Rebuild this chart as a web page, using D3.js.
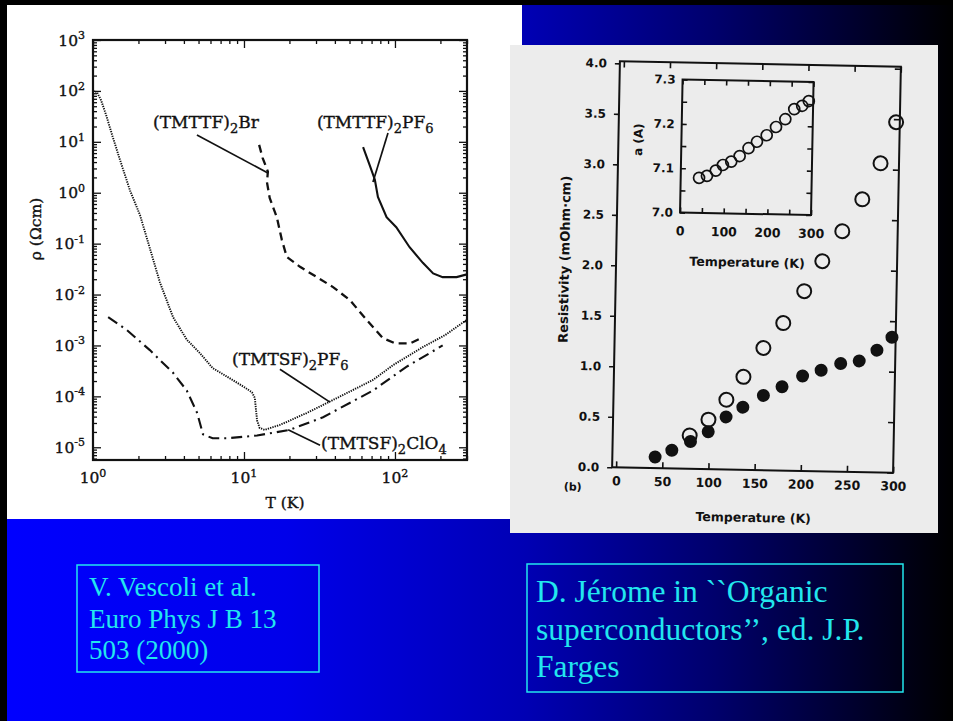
<!DOCTYPE html>
<html>
<head>
<meta charset="utf-8">
<script src="https://cdn.jsdelivr.net/npm/d3@7"></script>
<style>
  body { margin: 0; background: #000; }
  svg { display: block; }
</style>
</head>
<body>
<div id="content"></div>
<script>
let width = 953;
let height = 721;

// ---------- left figure: rho(T), log-log (Vescoli et al.) ----------
let tmtsfPF6T   = [1.0, 1.06, 1.13, 1.22, 1.34, 1.51, 1.76, 2.05, 2.38, 2.78, 3.39, 4.18, 5.1, 6.2, 8.4, 10.1, 11.3, 11.8, 12.2, 12.7, 13.7, 17.3, 26, 38.9, 71.5, 97, 153, 215, 300];
let tmtsfPF6Rho = [1.0e2, 9.5e1, 6.6e1, 3.4e1, 1.35e1, 4.4, 1.1, 3.6e-1, 8.1e-2, 1.7e-2, 3.6e-3, 1.3e-3, 7.1e-4, 3.6e-4, 2.1e-4, 1.5e-4, 1.2e-4, 9.3e-5, 3.4e-5, 2.4e-5, 2.2e-5, 2.75e-5, 4.7e-5, 8.5e-5, 2.1e-4, 4.1e-4, 9.3e-4, 1.6e-3, 3.2e-3];

let tmtsfClO4T   = [1.26, 1.68, 2.38, 3.39, 4.18, 4.9, 5.35, 6.2, 7.7, 12.2, 20.1, 33.4, 71.5, 119, 207];
let tmtsfClO4Rho = [3.6e-3, 2.0e-3, 8.1e-4, 2.9e-4, 1.3e-4, 4.7e-5, 1.8e-5, 1.5e-5, 1.5e-5, 1.7e-5, 2.2e-5, 3.9e-5, 1.3e-4, 3.8e-4, 1.0e-3];

let tmttfBrT   = [12.6, 13.3, 14.4, 14.2, 14.8, 16.5, 17.8, 19.2, 23.5, 30.4, 38.9, 50.3, 64.7, 83, 100, 126, 146];
let tmttfBrRho = [8.7, 4.8, 2.6, 1.6, 0.79, 0.33, 0.12, 0.055, 0.035, 0.022, 0.014, 0.0078, 0.0032, 0.0014, 0.0011, 0.0011, 0.00135];

let tmttfPF6T   = [61.5, 68, 73.6, 77.1, 88, 102, 125, 153, 179, 207, 256, 300];
let tmttfPF6Rho = [7.9, 3.5, 1.8, 0.83, 0.33, 0.21, 0.085, 0.042, 0.026, 0.022, 0.022, 0.025];

let xDecades = [0, 1, 2];
let yDecades = [3, 2, 1, 0, -1, -2, -3, -4, -5];

// curve names, placed and pointed in (T, rho) space
let curveLabels = [
  {parts: [["(TMTTF)", 0], ["2", 1], ["Br", 0]], T: 2.5, rho: 18.7, from: [4.88, 13.6], to: [14.4, 2.44]},
  {parts: [["(TMTTF)", 0], ["2", 1], ["PF", 0], ["6", 1]], T: 30.4, rho: 18.7, from: [89.9, 14.9], to: [71.5, 1.62]},
  {parts: [["(TMTSF)", 0], ["2", 1], ["PF", 0], ["6", 1]], T: 8.33, rho: 4.1e-4, from: [17.3, 3.4e-4], to: [37.1, 7.7e-5]},
  {parts: [["(TMTSF)", 0], ["2", 1], ["ClO", 0], ["4", 1]], T: 32.4, rho: 9.2e-6, from: [31.9, 1.1e-5], to: [19.6, 2.2e-5]}
];

// ---------- right figure: resistivity and lattice parameter (Jerome) ----------
let openT   = [79, 99, 118, 136, 157, 178, 200, 219, 240, 261, 280, 296];
let openRho = [0.33, 0.49, 0.69, 0.92, 1.21, 1.46, 1.78, 2.08, 2.38, 2.70, 3.06, 3.47];

let filledT   = [42, 60, 80, 99, 118, 136, 158, 178, 200, 220, 241, 261, 280, 296];
let filledRho = [0.11, 0.18, 0.27, 0.37, 0.52, 0.62, 0.74, 0.83, 0.94, 1.0, 1.07, 1.10, 1.21, 1.34];

let insetT = [42, 60, 80, 96, 115, 134, 154, 173, 195, 216, 237, 257, 275, 290];
let insetA = [7.079, 7.084, 7.096, 7.109, 7.117, 7.130, 7.148, 7.163, 7.178, 7.197, 7.215, 7.238, 7.246, 7.257];

// ---------- citation boxes ----------
let leftRef  = ["V. Vescoli et al.", "Euro Phys J B 13", "503 (2000)"];
let rightRef = ["D. Jérome in ``Organic", "superconductors’’, ed. J.P.", "Farges"];

let ink = "#111";
let cyan = "#22e6ee";

let svg = d3.select("#content")
    .append("svg")
    .attr("width", width)
    .attr("height", height);

let defs = svg.append("defs");
let grad = defs.append("linearGradient").attr("id", "bg")
    .attr("x1", 0).attr("x2", 1).attr("y1", 0).attr("y2", 0);
[[0, "#0000ff"], [0.3, "#0000ea"], [0.55, "#0000b4"], [0.75, "#00006c"], [0.9, "#00002c"], [1, "#000000"]]
    .forEach(s => grad.append("stop").attr("offset", s[0]).attr("stop-color", s[1]));

svg.append("rect").attr("width", width).attr("height", height).attr("fill", "url(#bg)");
svg.append("rect").attr("width", width).attr("height", 5).attr("fill", "#000");
svg.append("rect").attr("width", 7).attr("height", height).attr("fill", "#000");

// ===== left figure =====
svg.append("rect").attr("x", 7).attr("y", 5).attr("width", 515).attr("height", 514).attr("fill", "#fff");

let lx = d3.scaleLog().domain([1, 300]).range([93, 467]);
let ly = d3.scaleLog().domain([Math.pow(10, -5.25), 1000]).range([460, 40]);

defs.append("clipPath").attr("id", "lclip").append("rect")
    .attr("x", 93).attr("y", 40).attr("width", 374).attr("height", 420);

// scanned print: text gets a hairline stroke to look heavier
let left = svg.append("g").attr("font-family", "DejaVu Serif").attr("fill", ink);

let xMinor = [], yMinor = [];
d3.range(0, 3).forEach(e => d3.range(2, 10).forEach(m => { let v = m * Math.pow(10, e); if (v <= 300) xMinor.push(v); }));
d3.range(-6, 3).forEach(e => d3.range(2, 10).forEach(m => { let v = m * Math.pow(10, e); if (v >= ly.domain()[0]) yMinor.push(v); }));
let xMajor = xDecades.map(e => Math.pow(10, e));
let yMajor = yDecades.map(e => Math.pow(10, e));

function tickAxis(axis, tr) {
    let g = left.append("g").attr("transform", tr).call(axis);
    g.select(".domain").remove();
    g.selectAll("line").attr("stroke", ink).attr("stroke-width", 1.3);
}
tickAxis(d3.axisBottom(lx).tickValues(xMinor).tickSize(-4).tickFormat(""), "translate(0,460)");
tickAxis(d3.axisBottom(lx).tickValues(xMajor).tickSize(-8).tickFormat(""), "translate(0,460)");
tickAxis(d3.axisTop(lx).tickValues(xMinor).tickSize(-4).tickFormat(""), "translate(0,40)");
tickAxis(d3.axisTop(lx).tickValues(xMajor).tickSize(-8).tickFormat(""), "translate(0,40)");
tickAxis(d3.axisLeft(ly).tickValues(yMinor).tickSize(-4).tickFormat(""), "translate(93,0)");
tickAxis(d3.axisLeft(ly).tickValues(yMajor).tickSize(-8).tickFormat(""), "translate(93,0)");
tickAxis(d3.axisRight(ly).tickValues(yMinor).tickSize(-4).tickFormat(""), "translate(467,0)");
tickAxis(d3.axisRight(ly).tickValues(yMajor).tickSize(-8).tickFormat(""), "translate(467,0)");

left.append("rect").attr("x", 93).attr("y", 40).attr("width", 374).attr("height", 420)
    .attr("fill", "none").attr("stroke", ink).attr("stroke-width", 2.2);

let labels = left.append("g").attr("stroke", ink).attr("stroke-width", 0.35);

yDecades.forEach(e => {
    let t = labels.append("text").attr("x", 85).attr("y", ly(Math.pow(10, e)) + 5.5)
        .attr("text-anchor", "end").attr("font-size", 15.5);
    t.append("tspan").text("10");
    t.append("tspan").attr("font-size", 11).attr("dy", -6.5).text(e);
});
xDecades.forEach(e => {
    let t = labels.append("text").attr("x", lx(Math.pow(10, e))).attr("y", 483)
        .attr("text-anchor", "middle").attr("font-size", 15.5);
    t.append("tspan").text("10");
    t.append("tspan").attr("font-size", 11).attr("dy", -6.5).text(e);
});
labels.append("text").attr("x", 285).attr("y", 508).attr("text-anchor", "middle")
    .attr("font-size", 15.5).text("T (K)");
labels.append("text").attr("transform", "translate(41,229) rotate(-90)").attr("text-anchor", "middle")
    .attr("font-size", 15.5).text("ρ (Ωcm)");

let lline = d3.line().x(d => lx(d[0])).y(d => ly(d[1]));
let curves = left.append("g").attr("clip-path", "url(#lclip)").attr("fill", "none").attr("stroke", ink);
curves.append("path").attr("d", lline(d3.zip(tmtsfPF6T, tmtsfPF6Rho)))
    .attr("stroke-width", 1.9).attr("stroke-dasharray", "1.3,1.1");
curves.append("path").attr("d", lline(d3.zip(tmtsfClO4T, tmtsfClO4Rho)))
    .attr("stroke-width", 2.1).attr("stroke-dasharray", "11,5,2,5");
curves.append("path").attr("d", lline(d3.zip(tmttfBrT, tmttfBrRho)))
    .attr("stroke-width", 2.3).attr("stroke-dasharray", "8,5");
curves.append("path").attr("d", lline(d3.zip(tmttfPF6T, tmttfPF6Rho)))
    .attr("stroke-width", 2.1);

curveLabels.forEach(c => {
    left.append("line")
        .attr("x1", lx(c.from[0])).attr("y1", ly(c.from[1]))
        .attr("x2", lx(c.to[0])).attr("y2", ly(c.to[1]))
        .attr("stroke", ink).attr("stroke-width", 1.7);
    let t = labels.append("text").attr("x", lx(c.T)).attr("y", ly(c.rho)).attr("font-size", 17);
    let shift = 0;
    c.parts.forEach(p => {
        let dy = (p[1] ? 5 : 0) - shift;
        shift = p[1] ? 5 : 0;
        t.append("tspan").attr("dy", dy).attr("font-size", p[1] ? 13 : 17).text(p[0]);
    });
});

// ===== right figure =====
svg.append("rect").attr("x", 510).attr("y", 45).attr("width", 428).attr("height", 488).attr("fill", "#ececec");

// the photocopy sits slightly rotated
let right = svg.append("g")
    .attr("transform", "rotate(1.1,756,267)")
    .attr("font-family", "DejaVu Sans").attr("font-weight", "bold").attr("fill", ink);

let rx = d3.scaleLinear().domain([-4.3, 300]).range([616, 897]);
let ry = d3.scaleLinear().domain([0, 4.02]).range([470, 64]);

function rAxis(axis, tr) {
    let g = right.append("g").attr("transform", tr).call(axis);
    g.select(".domain").remove();
    g.selectAll("line").attr("stroke", ink).attr("stroke-width", 1.6);
    g.attr("font-family", null).attr("font-size", null);
    g.selectAll("text").attr("fill", ink);
    return g;
}
let xTicks = d3.range(0, 301, 50);
let yTicks = d3.range(0, 4.01, 0.5);
rAxis(d3.axisBottom(rx).tickValues(xTicks).tickSize(-6).tickPadding(9).tickFormat(d3.format("d")), "translate(0,470)")
    .attr("font-size", 12.5);
rAxis(d3.axisTop(rx).tickValues(xTicks).tickSize(-6).tickFormat(""), "translate(0,64)");
rAxis(d3.axisLeft(ry).tickValues(yTicks).tickSize(5).tickPadding(8).tickFormat(d3.format(".1f")), "translate(616,0)")
    .attr("font-size", 12);
rAxis(d3.axisRight(ry).tickValues(yTicks).tickSize(-6).tickFormat(""), "translate(897,0)");

right.append("rect").attr("x", 616).attr("y", 64).attr("width", 281).attr("height", 406)
    .attr("fill", "none").attr("stroke", ink).attr("stroke-width", 2);

right.append("text").attr("x", 758).attr("y", 522).attr("text-anchor", "middle")
    .attr("font-size", 12.5).text("Temperature (K)");
right.append("text").attr("transform", "translate(569,263) rotate(-90)").attr("text-anchor", "middle")
    .attr("font-size", 13).text("Resistivity (mOhm·cm)");
right.append("text").attr("x", 577).attr("y", 494).attr("text-anchor", "middle")
    .attr("font-size", 11).text("(b)");

right.append("g").selectAll("circle").data(d3.zip(openT, openRho)).enter()
    .append("circle")
    .attr("cx", d => rx(d[0])).attr("cy", d => ry(d[1])).attr("r", 7)
    .attr("fill", "none").attr("stroke", ink).attr("stroke-width", 2);
right.append("g").selectAll("circle").data(d3.zip(filledT, filledRho)).enter()
    .append("circle")
    .attr("cx", d => rx(d[0])).attr("cy", d => ry(d[1])).attr("r", 6.5)
    .attr("fill", ink);

// inset: lattice parameter a(T)
let ix = d3.scaleLinear().domain([0, 300]).range([679, 810]);
let iy = d3.scaleLinear().domain([7.0, 7.3]).range([214, 81]);

right.append("rect").attr("x", 679).attr("y", 81).attr("width", 131).attr("height", 133)
    .attr("fill", "#ececec").attr("stroke", ink).attr("stroke-width", 2);

let ixTicks = d3.range(0, 301, 50);
let iyTicks = d3.range(0, 7).map(i => 7.0 + i * 0.05);
rAxis(d3.axisBottom(ix).tickValues(ixTicks).tickSize(-5).tickFormat(""), "translate(0,214)");
rAxis(d3.axisTop(ix).tickValues(ixTicks).tickSize(-5).tickFormat(""), "translate(0,81)");
rAxis(d3.axisLeft(iy).tickValues(iyTicks).tickSize(-5).tickFormat(""), "translate(679,0)");
rAxis(d3.axisRight(iy).tickValues(iyTicks).tickSize(-5).tickFormat(""), "translate(810,0)");
rAxis(d3.axisBottom(ix).tickValues([0, 100, 200, 300]).tickSize(0).tickPadding(14).tickFormat(d3.format("d")), "translate(0,214)")
    .attr("font-size", 12.5);
rAxis(d3.axisLeft(iy).tickValues([7.0, 7.1, 7.2, 7.3]).tickSize(0).tickPadding(7).tickFormat(d3.format(".1f")), "translate(679,0)")
    .attr("font-size", 12);

right.append("text").attr("x", 747).attr("y", 267).attr("text-anchor", "middle")
    .attr("font-size", 12.5).text("Temperature (K)");
right.append("text").attr("transform", "translate(640,142) rotate(-90)").attr("text-anchor", "middle")
    .attr("font-size", 12).text("a (A)");

right.append("g").selectAll("circle").data(d3.zip(insetT, insetA)).enter()
    .append("circle")
    .attr("cx", d => ix(d[0])).attr("cy", d => iy(d[1])).attr("r", 5.5)
    .attr("fill", "none").attr("stroke", ink).attr("stroke-width", 1.7);

// ===== citation boxes =====
function refBox(lines, x, y, w, h, tx, ty, size, lead) {
    svg.append("rect").attr("x", x).attr("y", y).attr("width", w).attr("height", h)
        .attr("fill", "none").attr("stroke", cyan).attr("stroke-width", 1.5);
    svg.append("g").selectAll("text").data(lines).enter()
        .append("text")
        .attr("x", tx).attr("y", (d, i) => ty + i * lead)
        .attr("font-family", "Liberation Serif").attr("font-size", size)
        .attr("fill", cyan)
        .text(d => d);
}
refBox(leftRef, 77, 565, 242, 107, 89, 596, 27, 31.5);
refBox(rightRef, 527, 564, 376, 128, 536, 602, 31.5, 37.5);
</script>
</body>
</html>
